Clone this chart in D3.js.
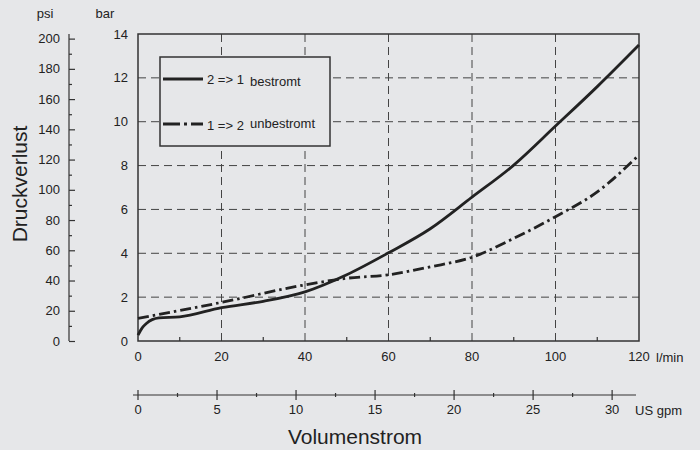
<!DOCTYPE html>
<html lang="de">
<head>
    <meta charset="UTF-8">
    <title>Druckverlust</title>
    <script src="https://d3js.org/d3.v7.min.js"></script>
    <style>
        body { margin: 0; background: #e6e7e9; }
        svg { display: block; font-family: "Liberation Sans", Arial, sans-serif; }
        text { fill: #222; }
    </style>
</head>
<body>
<div id="chart"></div>
<script>
    // values (bar over l/min)
    const bestromtX = [0, 1, 2, 5, 10, 20, 30, 40, 50, 60, 70, 80, 90, 100, 110, 120];
    const bestromtY = [0.27, 0.6, 0.8, 1.05, 1.1, 1.52, 1.81, 2.24, 3.02, 4.02, 5.12, 6.56, 8.02, 9.8, 11.6, 13.5];
    const unbestromtX = [0, 20, 40, 50, 60, 70, 80, 90, 100, 110, 120];
    const unbestromtY = [1.03, 1.76, 2.56, 2.86, 3.02, 3.38, 3.82, 4.68, 5.67, 6.8, 8.48];

    const lpmTicks = [0, 20, 40, 60, 80, 100, 120];
    const barTicks = [0, 2, 4, 6, 8, 10, 12, 14];
    const psiTicks = [0, 20, 40, 60, 80, 100, 120, 140, 160, 180, 200];
    const gpmTicks = [0, 5, 10, 15, 20, 25, 30];
    const legendLabels = ["2 => 1", "1 => 2"];
    const legendWords = ["bestromt", "unbestromt"];

    const PSI_PER_BAR = 14.5038;
    const LPM_PER_GPM = 3.78541;

    const width = 700, height = 450;
    const margin = { top: 34, right: 61, bottom: 109, left: 138 };
    const iw = width - margin.left - margin.right;
    const ih = height - margin.top - margin.bottom;

    const svg = d3.select("#chart").append("svg")
        .attr("width", width)
        .attr("height", height);

    const g = svg.append("g")
        .attr("transform", `translate(${margin.left},${margin.top})`);

    const x = d3.scaleLinear().domain([0, 120]).range([0, iw]);
    const y = d3.scaleLinear().domain([0, 14]).range([ih, 0]);
    // secondary scales share the pixel range via unit conversion
    const psi = d3.scaleLinear().domain([0, 14 * PSI_PER_BAR]).range([ih, 0]);
    const gpm = d3.scaleLinear().domain([0, 120 / LPM_PER_GPM]).range([0, iw]);

    // dashed grid
    g.append("g").selectAll("line")
        .data(barTicks.filter(d => d > 0 && d < 14))
        .join("line")
        .attr("x1", 0).attr("x2", iw)
        .attr("y1", d => y(d)).attr("y2", d => y(d))
        .attr("stroke", "#444").attr("stroke-width", 1)
        .attr("stroke-dasharray", "8,5");

    g.append("g").selectAll("line")
        .data(lpmTicks.filter(d => d > 0 && d < 120))
        .join("line")
        .attr("x1", d => x(d)).attr("x2", d => x(d))
        .attr("y1", 0).attr("y2", ih)
        .attr("stroke", "#444").attr("stroke-width", 1)
        .attr("stroke-dasharray", "8,5");

    // minor ticks on the bottom, pointing inward
    g.append("g").selectAll("line")
        .data(d3.range(10, 120, 20))
        .join("line")
        .attr("x1", d => x(d)).attr("x2", d => x(d))
        .attr("y1", ih).attr("y2", ih - 4)
        .attr("stroke", "#333").attr("stroke-width", 1.2);

    // frame
    g.append("rect")
        .attr("width", iw).attr("height", ih)
        .attr("fill", "none")
        .attr("stroke", "#333").attr("stroke-width", 1.5);

    // bar axis labels
    g.append("g").selectAll("text")
        .data(barTicks)
        .join("text")
        .attr("x", -10).attr("y", d => y(d))
        .attr("dy", "0.35em")
        .attr("text-anchor", "end")
        .attr("font-size", 13)
        .text(d => d);

    // l/min axis labels
    g.append("g").selectAll("text")
        .data(lpmTicks)
        .join("text")
        .attr("x", d => x(d)).attr("y", ih + 20)
        .attr("text-anchor", "middle")
        .attr("font-size", 13)
        .text(d => d);

    g.append("text")
        .attr("x", iw + 17).attr("y", ih + 21)
        .attr("font-size", 13)
        .text("l/min");

    // psi axis
    const psiAxis = d3.axisRight(psi)
        .tickValues(d3.range(0, 201, 10))
        .tickSize(0)
        .tickFormat("");
    const psiG = g.append("g").attr("transform", "translate(-69,0)").call(psiAxis);
    psiG.select(".domain").remove();
    psiG.append("line")
        .attr("y1", 0).attr("y2", ih)
        .attr("stroke", "#333").attr("stroke-width", 1.2);
    psiG.selectAll(".tick line")
        .attr("x2", d => d % 20 === 0 ? 6 : 3)
        .attr("stroke", "#333").attr("stroke-width", 1.2);

    psiG.append("g").selectAll("text")
        .data(psiTicks)
        .join("text")
        .attr("x", -9).attr("y", d => psi(d))
        .attr("dy", "0.35em")
        .attr("text-anchor", "end")
        .attr("font-size", 13)
        .text(d => d);

    svg.append("text").attr("x", 45).attr("y", 18)
        .attr("text-anchor", "middle").attr("font-size", 13).text("psi");
    svg.append("text").attr("x", 105).attr("y", 18)
        .attr("text-anchor", "middle").attr("font-size", 13).text("bar");

    // US gpm axis
    const gpmY = ih + 54;
    const gpmG = g.append("g").attr("transform", `translate(0,${gpmY})`);
    gpmG.append("line")
        .attr("x1", -5).attr("x2", iw - 3)
        .attr("stroke", "#333").attr("stroke-width", 1.2);
    gpmG.selectAll("line.tk")
        .data(d3.range(0, 31.5, 2.5))
        .join("line")
        .attr("class", "tk")
        .attr("x1", d => gpm(d)).attr("x2", d => gpm(d))
        .attr("y1", d => d % 5 === 0 ? -5 : -2)
        .attr("y2", d => d % 5 === 0 ? 5 : 2)
        .attr("stroke", "#333").attr("stroke-width", 1.2);
    gpmG.selectAll("text.lb")
        .data(gpmTicks)
        .join("text")
        .attr("class", "lb")
        .attr("x", d => gpm(d)).attr("y", 19)
        .attr("text-anchor", "middle")
        .attr("font-size", 13)
        .text(d => d);
    gpmG.append("text")
        .attr("x", iw - 4).attr("y", 20)
        .attr("font-size", 13)
        .text("US gpm");

    // axis titles
    svg.append("text")
        .attr("x", 355).attr("y", 444)
        .attr("text-anchor", "middle")
        .attr("font-size", 21)
        .text("Volumenstrom");

    svg.append("text")
        .attr("transform", "translate(27,184) rotate(-90)")
        .attr("text-anchor", "middle")
        .attr("font-size", 21)
        .text("Druckverlust");

    // curves
    const line = d3.line()
        .x(d => x(d[0]))
        .y(d => y(d[1]))
        .curve(d3.curveMonotoneX);

    const dashDot = "11,4,2.5,4";

    g.append("path")
        .datum(d3.zip(bestromtX, bestromtY))
        .attr("d", line)
        .attr("fill", "none")
        .attr("stroke", "#222")
        .attr("stroke-width", 2.8);

    g.append("path")
        .datum(d3.zip(unbestromtX, unbestromtY))
        .attr("d", line)
        .attr("fill", "none")
        .attr("stroke", "#222")
        .attr("stroke-width", 2.8)
        .attr("stroke-dasharray", dashDot);

    // legend
    const lg = svg.append("g").attr("transform", "translate(160,57)");
    lg.append("rect")
        .attr("width", 170).attr("height", 89)
        .attr("fill", "#e6e7e9")
        .attr("stroke", "#333").attr("stroke-width", 1.5);

    const rows = [22, 67];
    lg.selectAll("line.sw")
        .data(rows)
        .join("line")
        .attr("class", "sw")
        .attr("x1", 3).attr("x2", 43)
        .attr("y1", d => d).attr("y2", d => d)
        .attr("stroke", "#222").attr("stroke-width", 2.8)
        .attr("stroke-dasharray", (d, i) => i === 0 ? null : "17,4,3,4,17");

    lg.selectAll("text.nr")
        .data(legendLabels)
        .join("text")
        .attr("class", "nr")
        .attr("x", 47).attr("y", (d, i) => rows[i] + (i === 0 ? 5 : 6))
        .attr("font-size", 13)
        .text(d => d);

    lg.selectAll("text.wd")
        .data(legendWords)
        .join("text")
        .attr("class", "wd")
        .attr("x", 90).attr("y", (d, i) => rows[i] + (i === 0 ? 7 : 4))
        .attr("font-size", 13)
        .text(d => d);
</script>
</body>
</html>
